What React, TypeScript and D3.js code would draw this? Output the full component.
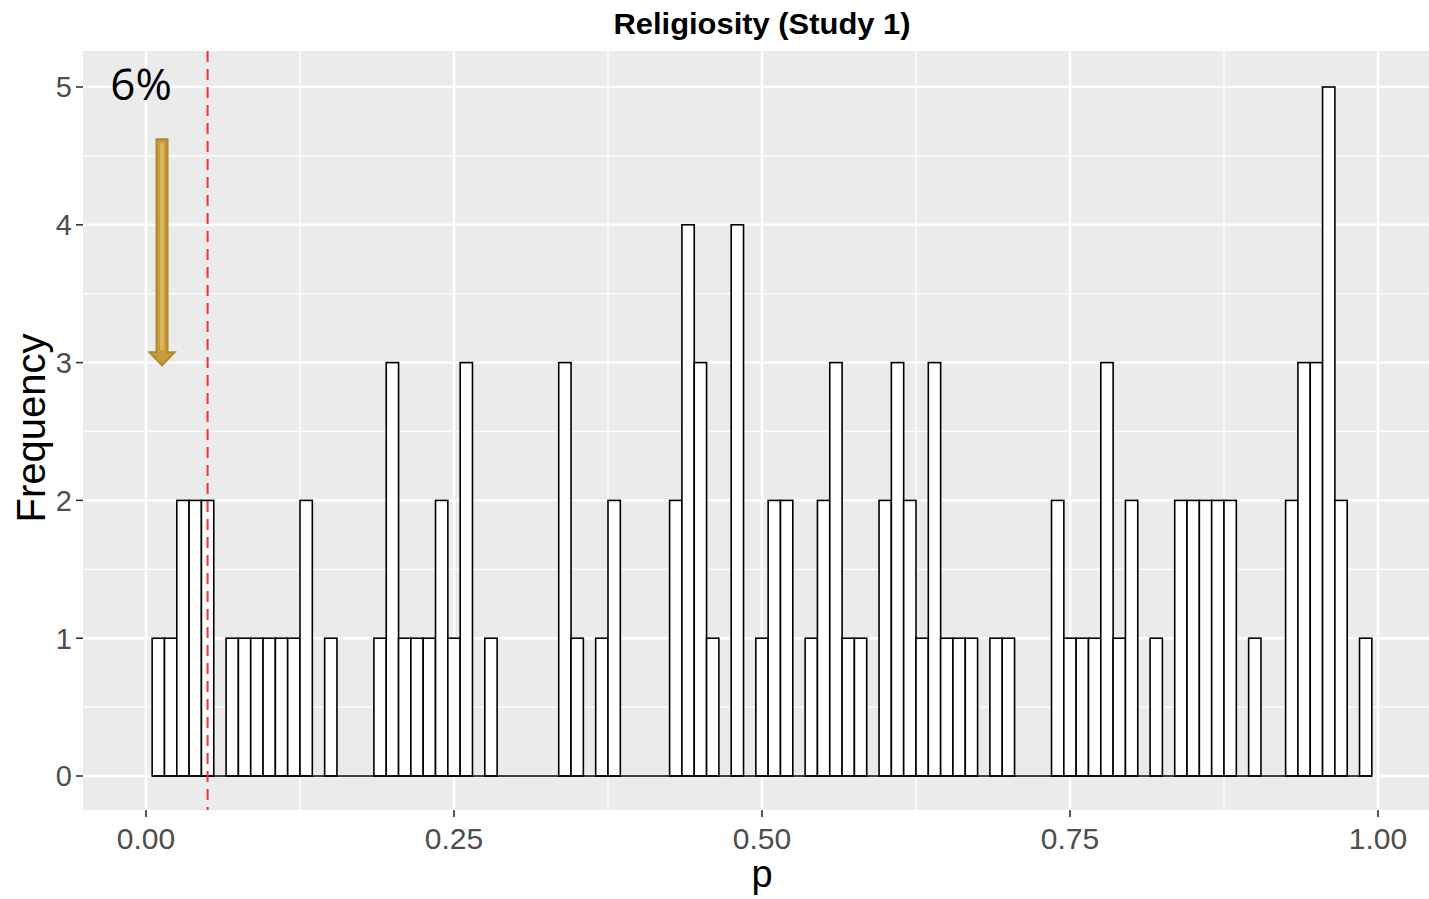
import { useMemo } from "react";
import * as d3 from "d3";

const WIDTH = 1429;
const HEIGHT = 899;

// panel box (ggplot grey area)
const PANEL = { left: 83, right: 1429, top: 51, bottom: 810 };

const TITLE = "Religiosity (Study 1)";
const X_LABEL = "p";
const Y_LABEL = "Frequency";

// histogram: bin width 0.01, bins centred on 0.01 ... 0.99
const BIN_WIDTH = 0.01;
const counts = [
  1, 1, 2, 2, 2, 0, 1, 1, 1, 1,
  1, 1, 2, 0, 1, 0, 0, 0, 1, 3,
  1, 1, 1, 2, 1, 3, 0, 1, 0, 0,
  0, 0, 0, 3, 1, 0, 1, 2, 0, 0,
  0, 0, 2, 4, 3, 1, 0, 4, 0, 1,
  2, 2, 0, 1, 2, 3, 1, 1, 0, 2,
  3, 2, 1, 3, 1, 1, 1, 0, 1, 1,
  0, 0, 0, 2, 1, 1, 1, 3, 1, 2,
  0, 1, 0, 2, 2, 2, 2, 2, 0, 1,
  0, 0, 2, 3, 3, 5, 2, 0, 1,
];

const xTicks = [0, 0.25, 0.5, 0.75, 1];
const xMinor = [0.125, 0.375, 0.625, 0.875];
const yTicks = [0, 1, 2, 3, 4, 5];
const yMinor = [0.5, 1.5, 2.5, 3.5, 4.5];

const CUTOFF = 0.05;
const PCT_LABEL = "6%";
// arrow from y=4.62 down to y=2.98 at p=0.013
const ARROW = { x: 0.013, y0: 4.62, y1: 2.98 };

const App = () => {
  const xScale = useMemo(
    () => d3.scaleLinear().domain([0, 1]).range([146, 1378]),
    []
  );
  const yScale = useMemo(
    () => d3.scaleLinear().domain([0, 5]).range([776, 87]),
    []
  );

  const bins = counts.map((c, i) => {
    const mid = (i + 1) * BIN_WIDTH;
    return { x0: mid - BIN_WIDTH / 2, x1: mid + BIN_WIDTH / 2, count: c };
  });
  const first = bins[0].x0;
  const last = bins[bins.length - 1].x1;

  // arrow shape
  const ax = xScale(ARROW.x);
  const ay0 = yScale(ARROW.y0);
  const ay1 = yScale(ARROW.y1);
  const shaftHalf = 5.5;
  const headHalf = 12.5;
  const headLen = 13;
  const arrowPath = [
    [ax - shaftHalf, ay0],
    [ax + shaftHalf, ay0],
    [ax + shaftHalf, ay1 - headLen],
    [ax + headHalf, ay1 - headLen],
    [ax, ay1],
    [ax - headHalf, ay1 - headLen],
    [ax - shaftHalf, ay1 - headLen],
  ];
  const arrowD = d3.line()(arrowPath as [number, number][]) + "Z";

  const font = "'Liberation Sans', Arial, sans-serif";

  return (
    <div style={{ position: "absolute", left: 0, top: 0 }}>
      <svg width={WIDTH} height={HEIGHT} style={{ display: "block" }}>
        <rect width={WIDTH} height={HEIGHT} fill="#ffffff" />
        {/* panel */}
        <rect
          x={PANEL.left}
          y={PANEL.top}
          width={PANEL.right - PANEL.left}
          height={PANEL.bottom - PANEL.top}
          fill="#EBEBEB"
        />
        {/* minor grid */}
        {yMinor.map((v) => (
          <line
            key={"ym" + v}
            x1={PANEL.left}
            x2={PANEL.right}
            y1={yScale(v)}
            y2={yScale(v)}
            stroke="#ffffff"
            strokeWidth={1.3}
          />
        ))}
        {xMinor.map((v) => (
          <line
            key={"xm" + v}
            x1={xScale(v)}
            x2={xScale(v)}
            y1={PANEL.top}
            y2={PANEL.bottom}
            stroke="#ffffff"
            strokeWidth={1.3}
          />
        ))}
        {/* major grid */}
        {yTicks.map((v) => (
          <line
            key={"yM" + v}
            x1={PANEL.left}
            x2={PANEL.right}
            y1={yScale(v)}
            y2={yScale(v)}
            stroke="#ffffff"
            strokeWidth={2.4}
          />
        ))}
        {xTicks.map((v) => (
          <line
            key={"xM" + v}
            x1={xScale(v)}
            x2={xScale(v)}
            y1={PANEL.top}
            y2={PANEL.bottom}
            stroke="#ffffff"
            strokeWidth={2.4}
          />
        ))}

        {/* histogram bars */}
        {bins.map((b, i) => (
          <rect
            key={i}
            x={xScale(b.x0)}
            y={yScale(b.count)}
            width={xScale(b.x1) - xScale(b.x0)}
            height={yScale(0) - yScale(b.count)}
            fill="#ffffff"
            stroke="#000000"
            strokeWidth={1.6}
          />
        ))}
        {/* empty bins still draw their outline along zero */}
        <line
          x1={xScale(first)}
          x2={xScale(last)}
          y1={yScale(0)}
          y2={yScale(0)}
          stroke="#000000"
          strokeWidth={1.6}
        />

        {/* cutoff line */}
        <line
          x1={xScale(CUTOFF)}
          x2={xScale(CUTOFF)}
          y1={PANEL.top}
          y2={PANEL.bottom}
          stroke="#FF2A2A"
          strokeWidth={2}
          strokeDasharray="11 7"
        />

        {/* annotation arrow */}
        <path d={arrowD} fill="#C79C3E" stroke="#B08A2C" strokeWidth={2} />
        <rect
          x={ax - 2}
          y={ay0 + 4}
          width={4}
          height={ay1 - ay0 - headLen - 6}
          fill="#D9B65E"
        />
        <text
          x={141}
          y={100}
          textAnchor="middle"
          fontFamily="'Open Sans', sans-serif"
          fontSize={44}
          fill="#000000"
        >
          {PCT_LABEL}
        </text>

        {/* y axis */}
        {yTicks.map((v) => (
          <g key={"yt" + v}>
            <line
              x1={PANEL.left - 7}
              x2={PANEL.left}
              y1={yScale(v)}
              y2={yScale(v)}
              stroke="#333333"
              strokeWidth={1.6}
            />
            <text
              x={72}
              y={yScale(v)}
              dy="0.36em"
              textAnchor="end"
              fontFamily={font}
              fontSize={29}
              fill="#4D4D4D"
            >
              {d3.format("d")(v)}
            </text>
          </g>
        ))}

        {/* x axis */}
        {xTicks.map((v) => (
          <g key={"xt" + v}>
            <line
              x1={xScale(v)}
              x2={xScale(v)}
              y1={PANEL.bottom}
              y2={PANEL.bottom + 7}
              stroke="#333333"
              strokeWidth={1.6}
            />
            <text
              x={xScale(v)}
              y={849}
              textAnchor="middle"
              fontFamily={font}
              fontSize={30}
              fill="#4D4D4D"
            >
              {d3.format(".2f")(v)}
            </text>
          </g>
        ))}

        {/* titles */}
        <text
          x={762}
          y={34}
          textAnchor="middle"
          fontFamily={font}
          fontWeight="bold"
          fontSize={30}
          textLength={297}
          lengthAdjust="spacingAndGlyphs"
          fill="#000000"
        >
          {TITLE}
        </text>
        <text
          x={762}
          y={887}
          textAnchor="middle"
          fontFamily={font}
          fontSize={38}
          fill="#000000"
        >
          {X_LABEL}
        </text>
        <text
          transform={`translate(45, 428) rotate(-90)`}
          textAnchor="middle"
          fontFamily={font}
          fontSize={40}
          fill="#000000"
        >
          {Y_LABEL}
        </text>
      </svg>
    </div>
  );
};

export default App;
